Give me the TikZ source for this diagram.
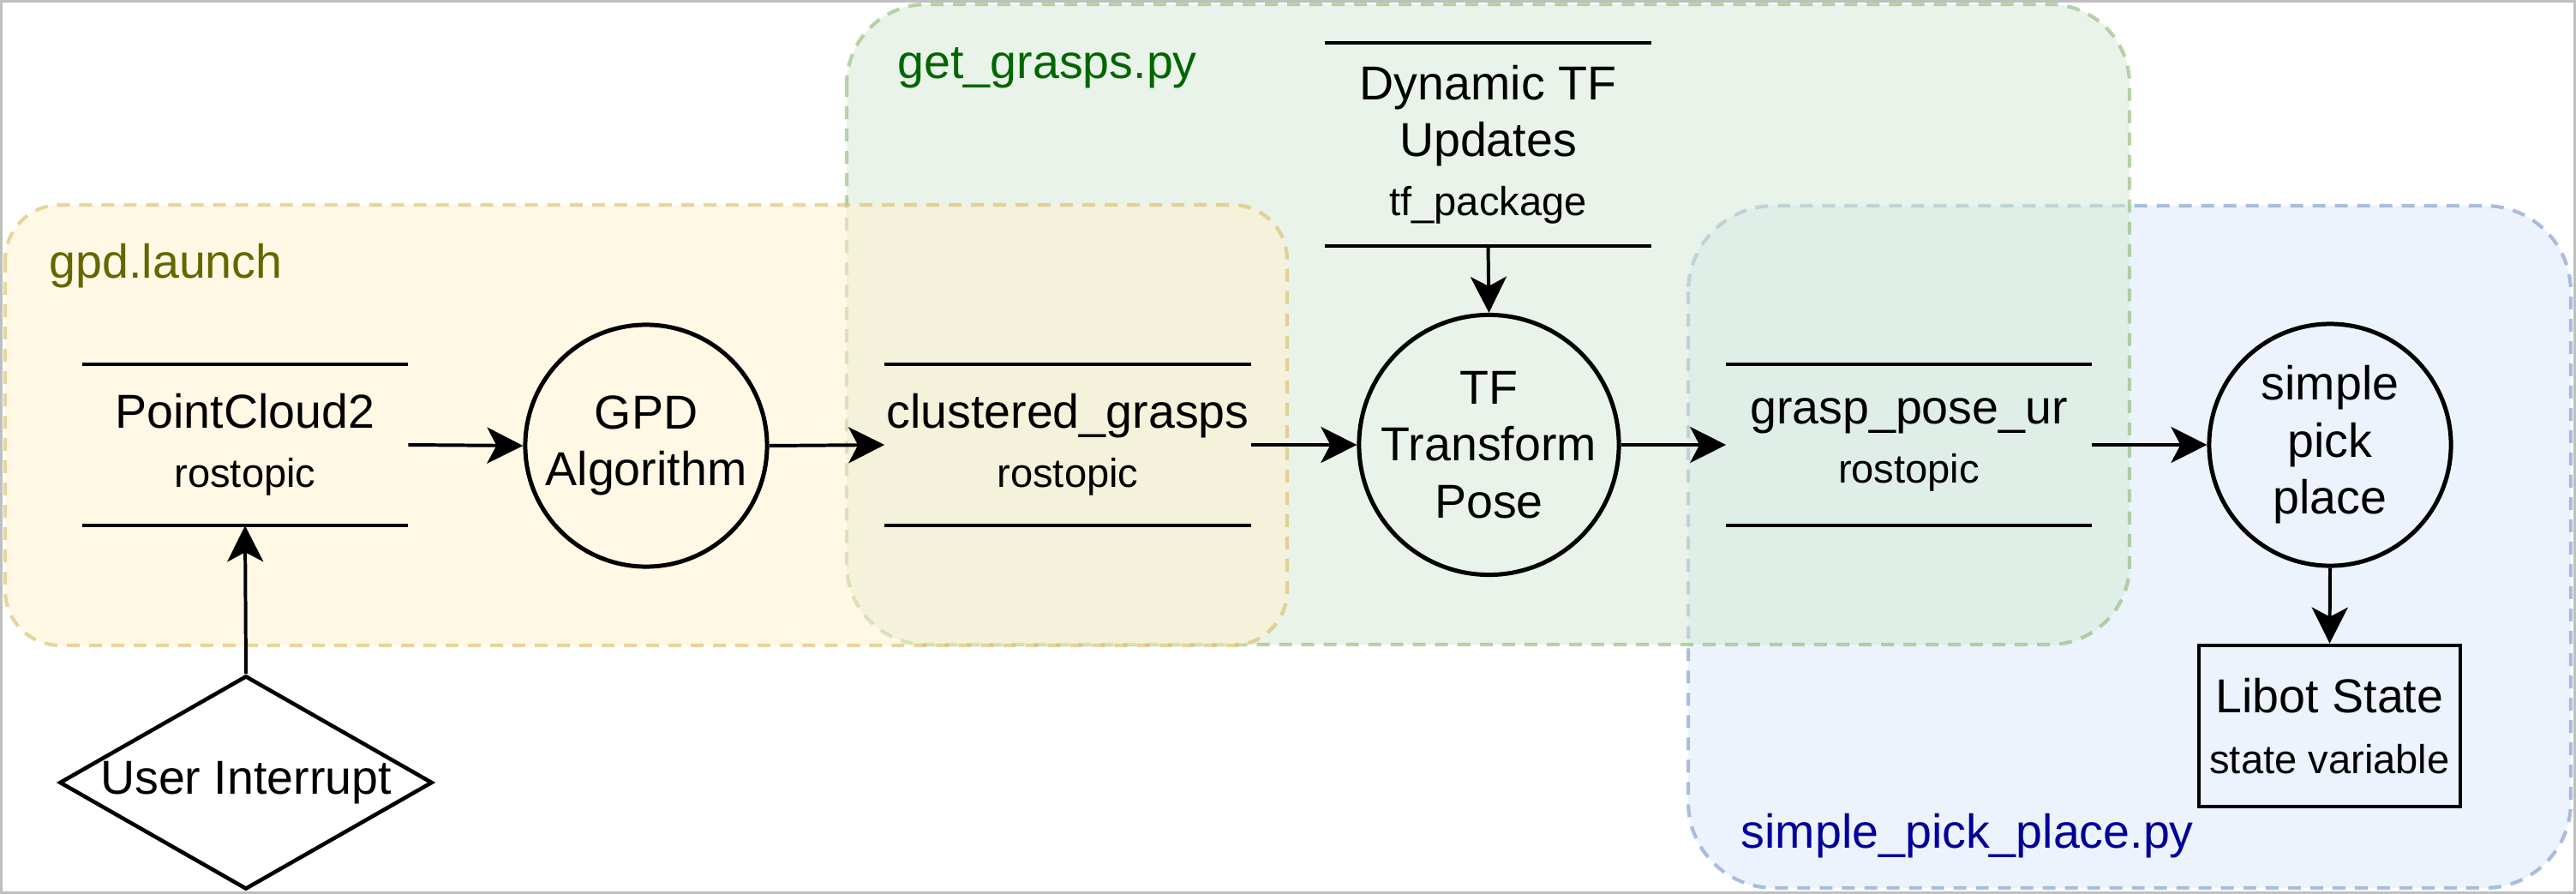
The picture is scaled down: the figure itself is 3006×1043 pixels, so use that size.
\documentclass[tikz,border=0pt]{standalone}
\usepackage{fontspec}
\setmainfont{Liberation Sans}
\usetikzlibrary{arrows.meta,shapes.geometric}
\definecolor{yfill}{HTML}{FFF2CC}
\definecolor{ydraw}{HTML}{D6B656}
\definecolor{gfill}{HTML}{D5E8D4}
\definecolor{gdraw}{HTML}{82B366}
\definecolor{bfill}{HTML}{DAE8FC}
\definecolor{bdraw}{HTML}{6C8EBF}
\definecolor{ylabel}{HTML}{666600}
\definecolor{glabel}{HTML}{006600}
\definecolor{blabel}{HTML}{000099}
\newcommand{\smtxt}[1]{{\fontsize{13.4}{16}\selectfont #1}}
\begin{document}
\begin{tikzpicture}[x=0.01cm,y=-0.01cm,
  every node/.style={font=\fontsize{15.8}{18.9}\selectfont, inner sep=0pt, align=center},
  topic/.style={minimum width=3.79cm, minimum height=1.87cm},
  proc/.style={circle, draw, line width=1.42pt, minimum size=2.82cm},
  tline/.style={line width=1.25pt},
  arr/.style={line width=1.13pt, -{Stealth[length=0.42cm,width=0.42cm,inset=0.11cm]}},
  grp/.style={dash pattern=on 0.15cm off 0.11cm, line width=1.2pt, draw opacity=0.55, fill opacity=0.5},
  grplabel/.style={anchor=base west, font=\fontsize{15.8}{19}\selectfont}]
\useasboundingbox (0,0) rectangle (3006,1043);
% frame
\draw[black!25, line width=0.03cm] (1.5,1.5) rectangle (3004.5,1041.5);
% groups
\draw[grp, draw=bdraw, fill=bfill, rounded corners=1.0cm] (1970,240) rectangle (3000,1036);
\draw[grp, draw=gdraw, fill=gfill, rounded corners=0.93cm] (988,5) rectangle (2485,752);
\draw[grp, draw=ydraw, fill=yfill, rounded corners=0.64cm] (6,239) rectangle (1502,753);
\node[grplabel, text=ylabel] (lgpd) at (57,325) {gpd.launch};
\node[grplabel, text=glabel] (lget) at (1047,92) {get\_grasps.py};
\node[grplabel, text=blabel] (lspp) at (2031,989) {simple\_pick\_place.py};
% topics
\node[topic] (pc) at (286,519) {PointCloud2\\[0.03cm]\smtxt{rostopic}};
\node[topic, minimum width=4.26cm] (cg) at (1246,519) {clustered\_grasps\\[0.03cm]\smtxt{rostopic}};
\node[topic, minimum width=4.25cm] (gp) at (2227.5,519) {grasp\_pose\_ur\\[0.03cm]\smtxt{rostopic}};
\node[topic, minimum height=2.35cm] (dtf) at (1736.5,168.5) {Dynamic TF\\Updates\\[0.02cm]\smtxt{tf\_package}};
\foreach \n in {pc,cg,gp,dtf}{
  \draw[tline] (\n.north west) -- (\n.north east);
  \draw[tline] (\n.south west) -- (\n.south east);
}
% processes
\node[proc] (gpd) at (754,520) {GPD\\Algorithm};
\node[proc] (tf) at (1737.5,519) {TF\\Transform\\Pose};
\node[proc] (spp) at (2719,519) {simple\\pick\\place};
\node[draw, line width=1.3pt, minimum width=3.05cm, minimum height=1.88cm] (libot) at (2718.5,847) {Libot State\\[0.04cm]\smtxt{state variable}};
\node[draw, diamond, shape aspect=1.75, line width=1.3pt, minimum width=4.35cm, minimum height=2.49cm] (ui) at (287,913) {User Interrupt};
% connectors
\draw[arr] (pc.east) -- (gpd.west);
\draw[arr] (gpd.east) -- (cg.west);
\draw[arr] (cg.east) -- (tf.west);
\draw[arr] (tf.east) -- (gp.west);
\draw[arr] (gp.east) -- (spp.west);
\draw[arr] (dtf.south) -- (tf.north);
\draw[arr] (spp.south) -- (libot.north);
\draw[arr] (ui.north) -- (pc.south);
\end{tikzpicture}
\end{document}
